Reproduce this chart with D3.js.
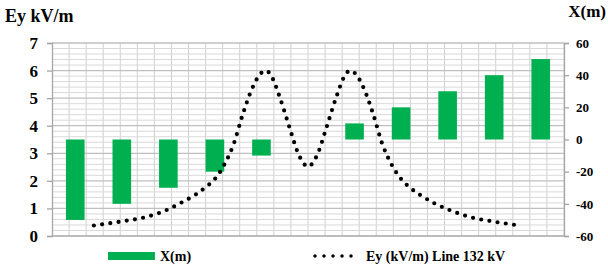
<!DOCTYPE html>
<html>
<head>
<meta charset="utf-8">
<script src="https://cdn.jsdelivr.net/npm/d3@7"></script>
<style>
  body { margin: 0; background: #fff; }
</style>
</head>
<body>
<div id="chart"></div>
<script>
// data
var positions = [-50, -40, -30, -20, -10, 0, 10, 20, 30, 40, 50];   // X(m) bars
var leftTicks = [0, 1, 2, 3, 4, 5, 6, 7];
var rightTicks = [-60, -40, -20, 0, 20, 40, 60];
var lineDist = [-46, -40, -35, -30, -27, -24, -22, -20, -18, -16, -14, -12, -10, -9, -8, -6, -4, -2, 0,
                2, 4, 6, 8, 9, 10, 12, 14, 16, 18, 20, 22, 24, 27, 30, 35, 40, 45];
var lineEy = [0.38, 0.53, 0.68, 0.97, 1.23, 1.52, 1.77, 2.07, 2.58, 3.32, 4.42, 5.35, 5.92, 6.0, 5.84, 5.0, 3.95, 2.95, 2.52,
              2.95, 3.95, 5.0, 5.84, 6.0, 5.92, 5.35, 4.42, 3.32, 2.58, 2.07, 1.74, 1.50, 1.20, 0.97, 0.68, 0.52, 0.39];

var W = 608, H = 267;
var m = {left: 52, right: 44, top: 43, bottom: 31};
var green = "#00B050";
var serif = "'Liberation Serif', 'Times New Roman', Times, serif";

var svg = d3.select("#chart").append("svg")
    .attr("width", W)
    .attr("height", H);

var x = d3.scaleBand()
    .domain(positions)
    .range([m.left, W - m.right])
    .paddingInner(0.6)
    .paddingOuter(0.3);

var yL = d3.scaleLinear().domain([0, 7]).range([H - m.bottom, m.top]);
var yR = d3.scaleLinear().domain([-60, 60]).range([H - m.bottom, m.top]);

// line x: same metres as the bar positions
var xLine = d3.scaleLinear()
    .domain([-50, 50])
    .range([x(-50) + x.bandwidth() / 2, x(50) + x.bandwidth() / 2]);

// grid
var grid = svg.append("g");
var xGrid = d3.scaleLinear().domain([0, 30]).range([m.left, W - m.right]);
grid.selectAll(".vg").data(d3.range(1, 31))
  .enter().append("line")
    .attr("x1", function(d) { return xGrid(d); })
    .attr("x2", function(d) { return xGrid(d); })
    .attr("y1", m.top).attr("y2", H - m.bottom)
    .attr("stroke", "#d0d0d0").attr("stroke-width", 1);
grid.selectAll(".hm").data(d3.range(0, 35).filter(function(i) { return i % 5 != 0; }))
  .enter().append("line")
    .attr("x1", m.left).attr("x2", W - m.right)
    .attr("y1", function(d) { return yL(d / 5); })
    .attr("y2", function(d) { return yL(d / 5); })
    .attr("stroke", "#d9d9d9").attr("stroke-width", 1);
grid.selectAll(".hM").data(leftTicks.slice(1))
  .enter().append("line")
    .attr("x1", m.left).attr("x2", W - m.right)
    .attr("y1", function(d) { return yL(d); })
    .attr("y2", function(d) { return yL(d); })
    .attr("stroke", "#bfbfbf").attr("stroke-width", 1.3);

// axes
var axL = svg.append("g")
    .attr("transform", "translate(" + m.left + ",0)")
    .call(d3.axisLeft(yL).tickValues(leftTicks).tickFormat(function(d) { return String(d); })
          .tickSize(5).tickPadding(9));
axL.selectAll("text").style("font-size", "17px");

var axR = svg.append("g")
    .attr("transform", "translate(" + (W - m.right) + ",0)")
    .call(d3.axisRight(yR).tickValues(rightTicks).tickFormat(function(d) { return String(d); })
          .tickSize(5).tickPadding(7));
axR.selectAll("text").style("font-size", "13px");

svg.selectAll(".domain, .tick line").attr("stroke", "#a6a6a6").attr("stroke-width", 1.3);

svg.append("line")
    .attr("x1", m.left).attr("x2", W - m.right)
    .attr("y1", yL(0)).attr("y2", yL(0))
    .attr("stroke", "#a6a6a6").attr("stroke-width", 1.3);

// bars
svg.selectAll(".bar").data(positions)
  .enter().append("rect")
    .attr("x", function(d) { return x(d); })
    .attr("width", x.bandwidth())
    .attr("y", function(d) { return yR(Math.max(0, d)); })
    .attr("height", function(d) { return Math.abs(yR(d) - yR(0)); })
    .attr("fill", green);

// Ey line
var pts = lineDist.map(function(d, i) { return [d, lineEy[i]]; });
var line = d3.line()
    .x(function(d) { return xLine(d[0]); })
    .y(function(d) { return yL(d[1]); })
    .curve(d3.curveMonotoneX);

svg.append("path")
    .datum(pts)
    .attr("d", line)
    .attr("fill", "none")
    .attr("stroke", "#000")
    .attr("stroke-width", 4.2)
    .attr("stroke-linecap", "round")
    .attr("stroke-dasharray", "0,8.3");

// titles
svg.append("text").attr("x", 5).attr("y", 22).style("font-size", "18px").text("Ey kV/m");
svg.append("text").attr("x", 606).attr("y", 17).attr("text-anchor", "end").style("font-size", "17px").text("X(m)");

// legend
var lg = svg.append("g");
lg.append("rect").attr("x", 108).attr("y", 252).attr("width", 47).attr("height", 8).attr("fill", green);
lg.append("text").attr("x", 160).attr("y", 261).style("font-size", "14px").text("X(m)");
lg.append("line")
    .attr("x1", 315).attr("x2", 360).attr("y1", 256).attr("y2", 256)
    .attr("stroke", "#000").attr("stroke-width", 3.5)
    .attr("stroke-linecap", "round").attr("stroke-dasharray", "0,9");
lg.append("text").attr("x", 366).attr("y", 261).style("font-size", "14px").text("Ey (kV/m) Line 132 kV");

svg.selectAll("text")
    .style("font-family", serif)
    .style("font-weight", "bold")
    .attr("fill", "#000");
</script>
</body>
</html>
